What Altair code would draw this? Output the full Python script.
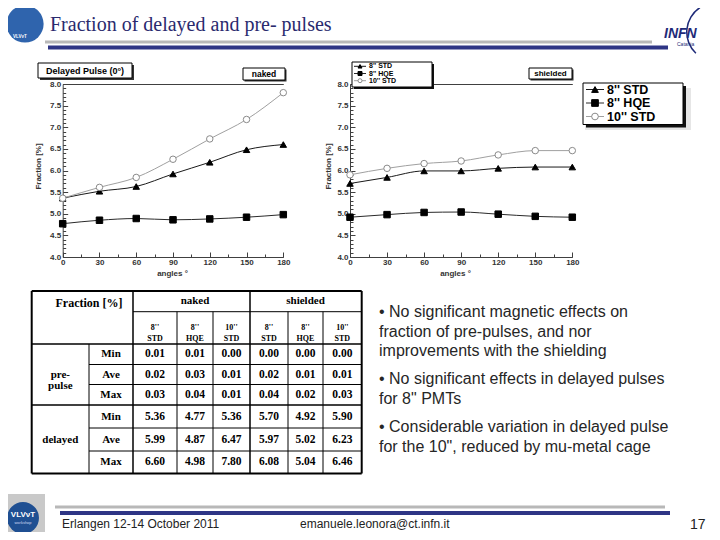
import altair as alt
import pandas as pd

# ---------------- data ----------------
angles = [0, 30, 60, 90, 120, 150, 180]
series = ["8'' STD", "8'' HQE", "10'' STD"]

naked_8std = [5.36, 5.52, 5.63, 5.92, 6.19, 6.48, 6.60]
naked_8hqe = [4.77, 4.85, 4.89, 4.86, 4.88, 4.92, 4.98]
naked_10std = [5.36, 5.61, 5.84, 6.26, 6.73, 7.18, 7.80]

shield_8std = [5.70, 5.84, 5.99, 5.99, 6.05, 6.08, 6.08]
shield_8hqe = [4.92, 4.98, 5.03, 5.04, 4.99, 4.94, 4.92]
shield_10std = [5.90, 6.05, 6.16, 6.22, 6.36, 6.46, 6.46]

y_major = [4.0, 4.5, 5.0, 5.5, 6.0, 6.5, 7.0, 7.5, 8.0]

table_groups = ["naked", "shielded"]
table_pmts = ["8''\nSTD", "8''\nHQE", "10''\nSTD"]
table_stats = ["Min", "Ave", "Max"]
table_kinds = ["pre-\npulse", "delayed"]
pre_min = [0.01, 0.01, 0.00, 0.00, 0.00, 0.00]
pre_ave = [0.02, 0.03, 0.01, 0.02, 0.01, 0.01]
pre_max = [0.03, 0.04, 0.01, 0.04, 0.02, 0.03]
del_min = [5.36, 4.77, 5.36, 5.70, 4.92, 5.90]
del_ave = [5.99, 4.87, 6.47, 5.97, 5.02, 6.23]
del_max = [6.60, 4.98, 7.80, 6.08, 5.04, 6.46]

bullets = [
    "\u2022 No significant magnetic effects on\nfraction of pre-pulses, and nor\nimprovements with the shielding",
    "\u2022 No significant effects in delayed pulses\nfor 8\" PMTs",
    "\u2022 Considerable variation in delayed pulse\nfor the 10\", reduced by mu-metal cage",
]
slide_title = "Fraction of delayed and pre- pulses"
footer_left = "Erlangen 12-14 October 2011"
footer_mid = "emanuele.leonora@ct.infn.it"
page_no = "17"

# ---------------- layout ----------------
W, H = 704, 524


def px(v):
    return v - 8


Y8, Y4 = 84.0, 257.0
one = pd.DataFrame({"k": [0]})


def box(x1, y1, x2, y2, fill, stroke=None, sw=1.0):
    kw = dict(fill=fill)
    if stroke:
        kw.update(stroke=stroke, strokeWidth=sw)
    return alt.Chart(one).mark_rect(**kw).encode(
        x=alt.value(px(x1)), x2=alt.value(px(x2)), y=alt.value(px(y1)), y2=alt.value(px(y2)))


def label(txt, x, y, size, font="Liberation Sans", weight="normal", color="#000000",
          align="left", baseline="middle", style="normal", lh=None):
    kw = dict(font=font, fontSize=size, fontWeight=weight, color=color, align=align,
              baseline=baseline, fontStyle=style)
    if lh:
        kw.update(lineBreak="\n", lineHeight=lh)
    return alt.Chart(pd.DataFrame({"t": [txt]})).mark_text(**kw).encode(
        text="t:N", x=alt.value(px(x)), y=alt.value(px(y)))


def disc(cx, cy, r, color):
    return alt.Chart(one).mark_circle(size=3.1416 * r * r, color=color, opacity=1).encode(
        x=alt.value(px(cx)), y=alt.value(px(cy)))


def arc(cx, cy, r1, r2, t1, t2, color):
    return alt.Chart(one).mark_arc(radius=r1, radius2=r2, theta=t1, theta2=t2, color=color).encode(
        x=alt.value(px(cx)), y=alt.value(px(cy)))


color_sc = alt.Scale(domain=series, range=["#1a1a1a", "#2a2a2a", "#a0a0a0"])
shape_sc = alt.Scale(domain=series, range=["triangle-up", "square", "circle"])
fill_sc = alt.Scale(domain=series, range=["#000000", "#000000", "#ffffff"])
stroke_sc = alt.Scale(domain=series, range=["#000000", "#000000", "#8a8a8a"])

AX = dict(grid=False, labelFont="Liberation Sans", labelFontWeight="bold", labelFontSize=8,
          labelColor="#333333", domainColor="#404040", domainWidth=1, tickColor="#404040",
          titleFont="Liberation Sans", titleFontWeight="bold", titleFontSize=8, titleColor="#333333")

y_minor = [round(4 + 0.1 * i, 1) for i in range(1, 40) if i % 5]
x_minor = [a + 15 for a in angles[:-1]]


def panel(vals, x0, x1, ytitle_x, xtitle_x, interp):
    df = pd.DataFrame([{"angle": a, "value": v, "series": s}
                       for s, vs in zip(series, vals) for a, v in zip(angles, vs)])
    xs = alt.Scale(domain=[0, 180], range=[px(x0), px(x1)], nice=False, zero=False)
    ys = alt.Scale(domain=[4, 8], range=[px(Y4), px(Y8)], nice=False, zero=False)
    base = alt.Chart(df)
    lines = base.mark_line(interpolate=interp, strokeWidth=1).encode(
        x=alt.X("angle:Q", scale=xs, axis=alt.Axis(
            orient="bottom", offset=px(Y4) - H, values=angles, ticks=False, labelPadding=1,
            labelFlush=False, labelOverlap=False, title="angles \u00b0", titleX=px(xtitle_x),
            titleY=273 - Y4, titleBaseline="middle", titleAlign="center", **AX)),
        y=alt.Y("value:Q", scale=ys, axis=alt.Axis(
            orient="left", offset=-px(x0), values=y_major, format=".1f", ticks=False,
            labelPadding=2, labelFlush=False, labelOverlap=False, title="Fraction [%]",
            titleX=ytitle_x - x0, titleY=px(166), titleAngle=270, titleBaseline="middle",
            titleAlign="center", **AX)),
        color=alt.Color("series:N", scale=color_sc, legend=None),
    )
    pts = base.mark_point(filled=False, opacity=1, strokeWidth=1, size=42).encode(
        x=alt.X("angle:Q", scale=xs, axis=alt.Axis(
            orient="top", offset=-px(Y4), values=angles, labels=False, domain=False,
            tickSize=5, title=None, grid=False, tickColor="#404040")),
        y=alt.Y("value:Q", scale=ys, axis=alt.Axis(
            orient="right", offset=px(x0) - W, values=y_major, labels=False, domain=False,
            tickSize=5, title=None, grid=False, tickColor="#404040")),
        shape=alt.Shape("series:N", scale=shape_sc, legend=None),
        fill=alt.Fill("series:N", scale=fill_sc, legend=None),
        stroke=alt.Stroke("series:N", scale=stroke_sc, legend=None),
    )
    minor = base.mark_point(opacity=0).encode(
        x=alt.X("angle:Q", scale=xs, axis=alt.Axis(
            orient="top", offset=-px(Y4), values=x_minor, labels=False, domain=False,
            tickSize=3, title=None, grid=False, tickColor="#404040")),
        y=alt.Y("value:Q", scale=ys, axis=alt.Axis(
            orient="right", offset=px(x0) - W, values=y_minor, labels=False, domain=False,
            tickSize=3, title=None, grid=False, tickColor="#404040")),
    )
    frame = base.mark_point(opacity=0).encode(
        x=alt.X("angle:Q", scale=xs, axis=alt.Axis(
            orient="top", offset=-px(Y8), values=angles, labels=False, ticks=False,
            domain=True, title=None, grid=False, domainColor="#404040")),
        y=alt.Y("value:Q", scale=ys, axis=None),
    )
    return alt.layer(lines, pts, minor, frame).resolve_scale(
        x="shared", y="shared").resolve_axis(x="independent", y="independent")


left = panel([naked_8std, naked_8hqe, naked_10std], 62.7, 283.3, 38, 172, "monotone")
right = panel([shield_8std, shield_8hqe, shield_10std], 350, 572.3, 328, 455, "monotone")


# ---------------- legends ----------------
def legend(y_first, y_last, lx1, lx2, mx, tx, fsize, msize):
    ldf = pd.DataFrame({"series": series})
    ysc = alt.Scale(type="point", domain=series, range=[px(y_first), px(y_last)], padding=0)
    yy = alt.Y("series:N", scale=ysc, axis=None)
    r = alt.Chart(ldf).mark_rule(strokeWidth=1).encode(
        x=alt.value(px(lx1)), x2=alt.value(px(lx2)), y=yy,
        color=alt.Color("series:N", scale=color_sc, legend=None))
    p = alt.Chart(ldf).mark_point(filled=False, opacity=1, strokeWidth=1, size=msize).encode(
        x=alt.value(px(mx)), y=yy,
        shape=alt.Shape("series:N", scale=shape_sc, legend=None),
        fill=alt.Fill("series:N", scale=fill_sc, legend=None),
        stroke=alt.Stroke("series:N", scale=stroke_sc, legend=None))
    t = alt.Chart(ldf).mark_text(align="left", baseline="middle", font="Liberation Sans",
                                 fontWeight="bold", fontSize=fsize, color="#000000").encode(
        x=alt.value(px(tx)), y=yy, text="series:N")
    return alt.layer(r, p, t)


big_legend = legend(89.5, 116.5, 586, 604, 595, 607, 12.5, 45)
small_legend = legend(66.3, 80.7, 354, 366, 360, 369, 7, 16)

# ---------------- table ----------------
col_edges = [31.7, 89, 133, 177, 213, 250, 288, 323, 361.7]
row_edges = [291, 311.7, 344, 364.5, 384.5, 405, 428, 451, 473.5]
tx_sc = alt.Scale(domain=list(range(9)), range=[px(v) for v in col_edges], nice=False, zero=False)
ty_sc = alt.Scale(domain=list(range(9)), range=[px(v) for v in row_edges], nice=False, zero=False)

cells = [{"c": 1.0, "r": 0.6, "t": "Fraction [%]", "fs": 12}]
for g, name in enumerate(table_groups):
    cells.append({"c": 3.5 + 3 * g, "r": 0.5, "t": name, "fs": 11})
    for j, pm in enumerate(table_pmts):
        cells.append({"c": 2.5 + 3 * g + j, "r": 1.5, "t": pm, "fs": 8})
for k, kind in enumerate(table_kinds):
    cells.append({"c": 0.5, "r": 3.5 + 3 * k, "t": kind, "fs": 11})
rows_vals = [pre_min, pre_ave, pre_max, del_min, del_ave, del_max]
for i, vals in enumerate(rows_vals):
    cells.append({"c": 1.5, "r": 2.5 + i, "t": table_stats[i % 3], "fs": 11})
    for j, v in enumerate(vals):
        cells.append({"c": 2.5 + j, "r": 2.5 + i, "t": f"{v:.2f}", "fs": 11.5})
cells_df = pd.DataFrame(cells)

segs = []
# horizontal rules (row index, from col, to col, width)
for r, c1, c2, w in [(0, 0, 8, 2), (8, 0, 8, 2), (1, 2, 8, 1), (2, 0, 8, 1.5), (3, 1, 8, 1),
                     (4, 1, 8, 1), (5, 0, 8, 1.5), (6, 1, 8, 1), (7, 1, 8, 1)]:
    segs.append({"x1": c1, "x2": c2, "y1": r, "y2": r, "w": w})
# vertical rules (col index, from row, to row, width)
for c, r1, r2, w in [(0, 0, 8, 2), (8, 0, 8, 2), (1, 2, 8, 1), (2, 0, 8, 1.5), (3, 1, 8, 1),
                     (4, 1, 8, 1), (5, 0, 8, 1.5), (6, 1, 8, 1), (7, 1, 8, 1)]:
    segs.append({"x1": c, "x2": c, "y1": r1, "y2": r2, "w": w})
segs_df = pd.DataFrame(segs)

t_rules = alt.Chart(segs_df).mark_rule(color="#000000").encode(
    x=alt.X("x1:Q", scale=tx_sc, axis=None), x2="x2:Q",
    y=alt.Y("y1:Q", scale=ty_sc, axis=None), y2="y2:Q",
    strokeWidth=alt.StrokeWidth("w:Q", scale=None))
t_text = alt.Chart(cells_df).mark_text(font="Liberation Serif", fontWeight="bold",
                                       color="#000000", lineBreak="\n", lineHeight=11,
                                       baseline="middle", align="center").encode(
    x=alt.X("c:Q", scale=tx_sc, axis=None), y=alt.Y("r:Q", scale=ty_sc, axis=None),
    text="t:N", size=alt.Size("fs:Q", scale=None))
table = alt.layer(t_rules, t_text)

# ---------------- slide decorations ----------------
decor = [
    # header
    disc(25, 24, 21, "#2f64ad"),
    arc(34, 14, 17, 13, 5.2, 6.6, "#ffffff"),
    label("VLV\u03bdT", 13, 37, 4.5, weight="bold", color="#ffffff"),
    label(slide_title, 50, 25, 20, font="Liberation Serif", color="#2a2a6e"),
    box(45, 40.5, 652, 43.5, "#b8b8b8"),
    box(48, 45.5, 668, 49.5, "#2e3585"),
    arc(716, 32, 30, 28.5, 3.9, 5.7, "#1e2a78"),
    label("INFN", 664, 34, 14, weight="bold", style="italic", color="#1e2a78"),
    label("Catania", 677, 43.5, 5, color="#1e2a78"),
    # footer
    box(0, 494, 45, 540, "#c9c9c9"),
    disc(23, 518, 18, "#1f4f92"),
    label("VLV\u03bdT", 23, 515, 8, weight="bold", color="#ffffff", align="center"),
    label("workshop", 23, 523, 4, color="#d0d8f0", align="center"),
    box(55, 505.5, 665, 508.5, "#b8b8b8"),
    box(60, 511, 670, 515, "#2e3585"),
    label(footer_left, 62, 524, 12, color="#222222"),
    label(footer_mid, 300, 524, 12, color="#222222"),
    label(page_no, 690, 525, 14, color="#222222"),
]

chart_boxes = [
    # left title box
    box(40, 65, 134, 80, "#333333"),
    box(38, 63, 132, 78, "#ffffff", "#000000", 1),
    label("Delayed Pulse (0\u00b0)", 85, 70.5, 9, weight="bold", align="center"),
    box(244.5, 69.5, 286.5, 81.5, "#333333"),
    box(243, 68, 285, 80, "#ffffff", "#000000", 1),
    label("naked", 264, 74, 8.5, weight="bold", align="center"),
    box(530.5, 69.5, 573.5, 80.5, "#333333"),
    box(529, 68, 572, 79, "#ffffff", "#000000", 1),
    label("shielded", 550.5, 73.5, 8, weight="bold", align="center"),
    # small legend box
    box(354, 64, 434, 89, "#111111"),
    box(352, 62, 432, 87, "#ffffff", "#000000", 1),
    # big legend box
    box(585, 88, 691, 130, "#e6e6e6"),
    box(586, 86, 686, 127.5, "#111111"),
    box(583, 83, 683, 124.5, "#ffffff", "#000000", 1),
]

text_layers = [
    label(bullets[0], 379, 304, 16, color="#262626", baseline="top", lh=19.5),
    label(bullets[1], 379, 371, 16, color="#262626", baseline="top", lh=19.5),
    label(bullets[2], 379, 419, 16, color="#262626", baseline="top", lh=19.5),
]

layers = decor + [left, right] + chart_boxes + [small_legend, big_legend, table] + text_layers

chart = alt.layer(*layers).resolve_scale(
    x="independent", y="independent").resolve_axis(
    x="independent", y="independent").properties(
    width=W, height=H, autosize=alt.AutoSizeParams(type="none"), padding=0,
    background="white").configure_view(stroke=None)

chart.save("out.html", embed_options={"renderer": "svg", "actions": False})
